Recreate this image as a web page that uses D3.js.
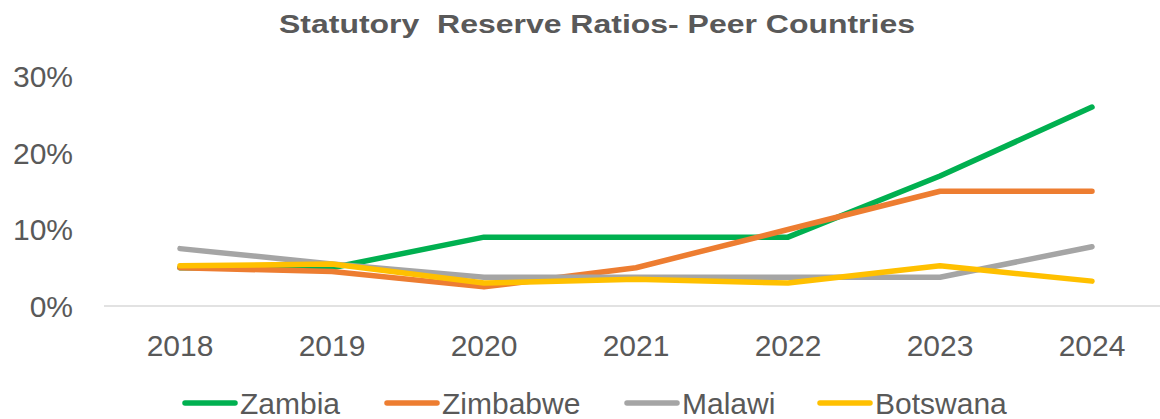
<!DOCTYPE html>
<html>
<head>
<meta charset="utf-8">
<script src="https://cdn.jsdelivr.net/npm/d3@7"></script>
<style>
  html, body { margin: 0; padding: 0; background: #fff; }
  svg { display: block; font-family: "Liberation Sans", Arial, sans-serif; }
</style>
</head>
<body>
<svg id="chart" width="1160" height="419"></svg>
<script>
// Statutory reserve ratios (%) for peer countries, 2018–2024
const years = ["2018", "2019", "2020", "2021", "2022", "2023", "2024"];
const zambia   = [5, 5, 9, 9, 9, 17, 26];
const zimbabwe = [5, 4.5, 2.5, 5, 10, 15, 15];
const malawi   = [7.5, 5.5, 3.75, 3.75, 3.75, 3.75, 7.75];
const botswana = [5.25, 5.5, 3, 3.5, 3, 5.25, 3.25];
const yTicks = [0, 10, 20, 30];

const seriesNames  = ["Zambia", "Zimbabwe", "Malawi", "Botswana"];
const seriesValues = [zambia, zimbabwe, malawi, botswana];
const seriesColors = ["#00B050", "#ED7D31", "#A5A5A5", "#FFC000"];

const svg = d3.select("#chart");
const textColor = "#595959";

const x = d3.scaleBand().domain(years).range([104, 1168]);
const y = d3.scaleLinear().domain([0, 30]).range([306, 76.5]);
const cx = d => x(d) + x.bandwidth() / 2;

// Title
svg.append("text")
  .attr("x", 597).attr("y", 33)
  .attr("text-anchor", "middle")
  .attr("fill", textColor)
  .attr("font-weight", "bold")
  .attr("font-size", 26)
  .attr("textLength", 636)
  .attr("lengthAdjust", "spacingAndGlyphs")
  .style("white-space", "pre")
  .text("Statutory  Reserve Ratios- Peer Countries");

// Category axis line
svg.append("line")
  .attr("x1", 104).attr("x2", 1168)
  .attr("y1", y(0)).attr("y2", y(0))
  .attr("stroke", "#D9D9D9").attr("stroke-width", 1.5);

// Y tick labels
svg.append("g").selectAll("text")
  .data(yTicks).join("text")
  .attr("x", 73)
  .attr("y", d => y(d))
  .attr("dy", "0.36em")
  .attr("text-anchor", "end")
  .attr("fill", textColor)
  .attr("font-size", 30)
  .text(d => d + "%");

// X tick labels
svg.append("g").selectAll("text")
  .data(years).join("text")
  .attr("x", d => cx(d))
  .attr("y", 356)
  .attr("text-anchor", "middle")
  .attr("fill", textColor)
  .attr("font-size", 30)
  .text(d => d);

// Series lines
const line = d3.line()
  .x((d, i) => cx(years[i]))
  .y(d => y(d));

svg.append("g").selectAll("path")
  .data(seriesValues).join("path")
  .attr("d", d => line(d))
  .attr("fill", "none")
  .attr("stroke", (d, i) => seriesColors[i])
  .attr("stroke-width", 5.5)
  .attr("stroke-linecap", "round")
  .attr("stroke-linejoin", "round");

// Legend
const legendX = [185, 387, 627, 820];
const legend = svg.append("g").selectAll("g")
  .data(seriesNames).join("g")
  .attr("transform", (d, i) => `translate(${legendX[i]},403)`);
legend.append("line")
  .attr("x1", 0).attr("x2", 50)
  .attr("stroke", (d, i) => seriesColors[i])
  .attr("stroke-width", 5.5)
  .attr("stroke-linecap", "round");
legend.append("text")
  .attr("x", 55)
  .attr("dy", "0.36em")
  .attr("fill", textColor)
  .attr("font-size", 30)
  .text(d => d);
</script>
</body>
</html>
